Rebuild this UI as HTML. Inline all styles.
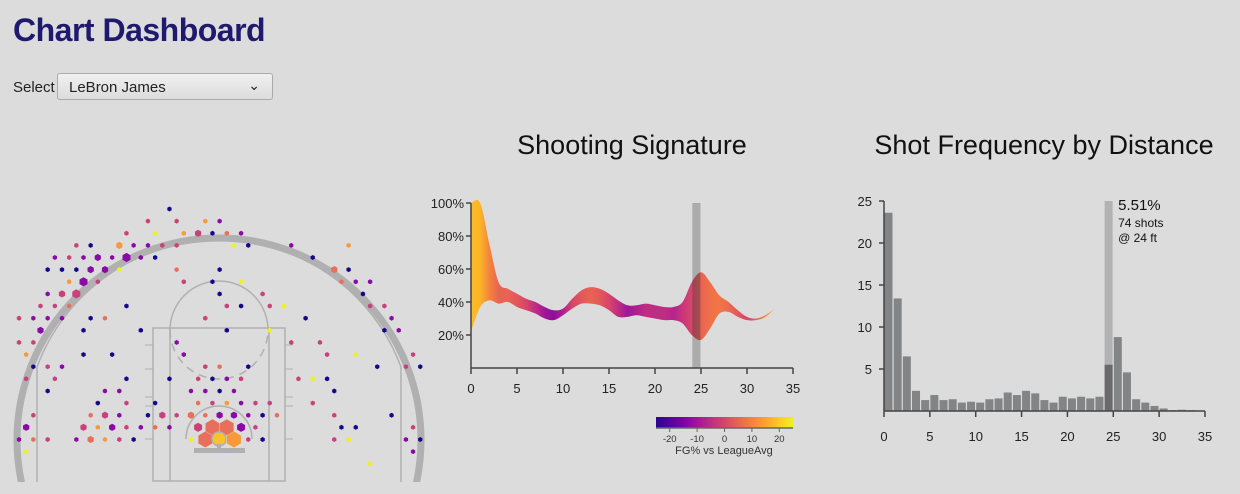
<!DOCTYPE html>
<html><head><meta charset="utf-8">
<style>
html,body{margin:0;width:1240px;height:494px;overflow:hidden}
body{background:#dcdcdc;font-family:"Liberation Sans",sans-serif;position:relative}
h1{position:absolute;left:13px;top:12px;margin:0;font-size:32px;font-weight:bold;color:#1f1a6e;letter-spacing:-0.5px}
#sel-label{position:absolute;left:13px;top:79px;font-size:15px;color:#222}
#sel{position:absolute;left:57px;top:73px;width:216px;height:27px;border:1px solid #aaa;border-radius:3px;background:linear-gradient(#f0f0f0,#dcdcdc);box-sizing:border-box;font-size:15px;color:#222;padding:5px 0 0 11px}
#sel span{position:absolute;right:12px;top:3px;font-size:14px}
svg{position:absolute;left:0;top:0;display:block}
</style></head><body>
<h1>Chart Dashboard</h1>
<div id="sel-label">Select</div>
<div id="sel">LeBron James<span>&#8964;</span></div>
<svg id="s" width="1240" height="494" xmlns="http://www.w3.org/2000/svg" font-family="Liberation Sans, sans-serif">
<defs>
<linearGradient id="ribbonGrad" gradientUnits="userSpaceOnUse" x1="471" x2="793" y1="0" y2="0"></linearGradient>
<linearGradient id="cbGrad" x1="0" x2="1" y1="0" y2="0"></linearGradient>
<clipPath id="courtClip"><rect x="0" y="150" width="440" height="332"/></clipPath>
<clipPath id="ribbonClip"><path id="ribbonClipPath" d=""/></clipPath>
</defs>
<g id="court"></g>
<g id="sig"></g>
<g id="freq"></g>
</svg>
<script>
// ---------- Court hexbin data: [row, col, colorKey, sizeKey] ----------
const hexRows = [
"10.5n1","9m1 11m1 13a1 14p1","7.5m1 9.5y1 11.5a1 12.5m2 13.5n1 14.5o1 15.5p1",
"4m1 5n1 7a2 8p1 9p1 10m1 11m1 15y1 16n1 19p1 23a1",
"2.5p1 3.5m1 4.5p1 5.5p2 6.5p1 7.5p3 8.5p1 9.5n1 20.5n1",
"2n1 3n1 4n1 5p2 6p2 7y1 11o1 14n1 22o2 23n1",
"3.5a1 4.5p3 5.5m1 11.5m1 13.5n1 15.5y1 22.5o1 23.5p1 24.5p1",
"2p1 3m2 4m3 14n1 17m1 24n1",
"1.5m1 2.5m1 3.5o1 7.5n1 14.5m1 15.5n1 17.5m1 18.5y1 24.5m1 25.5m1",
"0m1 1p1 2p1 3p1 5n1 6o1 13m1 20n1 26p1",
"1.5p2 4.5n1 8.5n1 14.5n1 17.5y1 25.5n1 26.5p1",
"0m1 1m1 11p1 19m1 21m1",
"0.5a1 4.5n1 6.5n1 11.5p1 21.5m1 23.5y1 27.5m1",
"1n1 2m1 3p1 13m1 14o1 16n1 25n1 27m1 28n1",
"0.5m1 2.5m1 7.5n1 10.5n1 12.5m1 13.5n1 14.5p1 15.5m1 19.5m1 20.5y1 21.5n1",
"2n1 6p1 7p1 12p1 13p1 14n1 15p1 22n1",
"5.5n1 7.5m1 9.5n1 12.5o1 13.5m1 14.5a1 15.5p1 16.5m1 17.5m1 20.5m1",
"1m1 5o1 6m2 7p1 9n1 10m2 11m1 12o2 13o1 14p2 15p2 16p1 17n1 18o1 22m1 26n1",
"0.5p2 4.5m2 5.5a1 6.5p2 7.5m1 8.5p1 9.5o1 10.5p1 12.5m3 13.5o4 14.5o4 15.5p3 16.5m1 22.5n1 23.5n1 27.5m1",
"0p1 1o1 2m1 4p1 5o2 6a1 7m1 8n1 12y1 13o4 14g4 15a4 16m1 17n1 22m1 23y1 27p1 28n1",
"0.5y1 13.5y1 14.5y1 27.5p1",
"24.5y1"
];
const colorMap = {n:"#14088a",p:"#8a0aa5",m:"#c8417c",o:"#e8705b",a:"#f99a3a",y:"#eef21f",g:"#fcc22a"};
const sizeMap = {1:2.5,2:3.6,3:4.6,4:8};

// ---------- Shooting signature data ----------
const sigDist  = [0,1,2,3,4,5,6,7,8,9,10,11,12,13,14,15,16,17,18,19,20,21,22,23,24,25,26,27,28,29,30,31,32,33];
const sigUpper = [100,100,75,52,48,45,42,40,37,35,36,42,47,49,48,45,41,38,38,39,38,37,37,40,52,58,52,44,40,35,31,30,32,36];
const sigLower = [22,37,41,39,40,37,35,33,30,29,32,36,39,39,38,35,31,31,32,31,30,29,29,27,20,17,24,33,34,31,29,29,31,36];
const sigDiff  = [18,17,10,5,5,3,0,-5,-10,-12,-8,0,3,5,3,0,-5,-10,-8,-5,-5,-5,-7,-3,0,5,7,8,6,3,0,5,10,15];
const sigYTicks = [20,40,60,80,100];
const xTicks = [0,5,10,15,20,25,30,35];
const cbTicks = [-20,-10,0,10,20];

// ---------- Frequency data ----------
const freqDist = [0,1,2,3,4,5,6,7,8,9,10,11,12,13,14,15,16,17,18,19,20,21,22,23,24,25,26,27,28,29,30,31,32,33,34];
const freqVals = [23.6,13.4,6.5,2.4,1.3,1.9,1.3,1.4,1.0,1.1,1.0,1.4,1.5,2.2,1.9,2.4,2.1,1.3,1.0,1.7,1.5,1.7,1.5,1.7,5.51,8.8,4.6,1.4,1.0,0.6,0.3,0.1,0.15,0.1,0.05];
const freqYTicks = [5,10,15,20,25];
const selectedDist = 24;
const selectedShots = 74;

const NS="http://www.w3.org/2000/svg";
function mk(parent,tag,attrs,text){const e=document.createElementNS(NS,tag);for(const k in attrs)e.setAttribute(k,attrs[k]);if(text!==undefined)e.textContent=text;parent.appendChild(e);return e;}

const plasmaStops=[[-25,"#2a0593"],[-15,"#7a02a8"],[-7,"#b5238d"],[0,"#d8456a"],[7,"#ef7049"],[14,"#fa9d2a"],[20,"#fccb25"],[25,"#eef21f"]];
function hex2rgb(h){return [1,3,5].map(i=>parseInt(h.substr(i,2),16));}
function plasma(v){v=Math.max(-25,Math.min(25,v));for(let i=0;i<plasmaStops.length-1;i++){const a=plasmaStops[i],b=plasmaStops[i+1];if(v<=b[0]){const t=(v-a[0])/(b[0]-a[0]);const ca=hex2rgb(a[1]),cb=hex2rgb(b[1]);return "rgb("+ca.map((c,j)=>Math.round(c+(cb[j]-c)*t)).join(",")+")";}}return plasmaStops[plasmaStops.length-1][1];}

// ================= COURT =================
const court=document.getElementById('court');
const cg=mk(court,'g',{'clip-path':'url(#courtClip)'});
const courtLines=mk(cg,'g',{fill:'none',stroke:'#b0b0b0'});


mk(courtLines,'circle',{cx:219,cy:440,r:202,'stroke-width':7});
mk(courtLines,'path',{d:'M37,482 L37,367 A194,194 0 0 1 401,367 L401,482','stroke-width':1.5});
mk(courtLines,'rect',{x:153,y:328,width:132,height:153,'stroke-width':1.5});
mk(courtLines,'line',{x1:170,y1:328,x2:170,y2:481,'stroke-width':1.5});
mk(courtLines,'line',{x1:269,y1:328,x2:269,y2:481,'stroke-width':1.5});
mk(courtLines,'path',{d:'M170,330 A49,49 0 0 1 268,330','stroke-width':1.5});
mk(courtLines,'path',{d:'M170,330 A49,49 0 0 0 268,330','stroke-width':1.5,'stroke-dasharray':'8,6'});
mk(courtLines,'path',{d:'M186,439 A33,33 0 0 1 252,439','stroke-width':1.5});
[345,369,397,406,439].forEach(y=>{mk(courtLines,'line',{x1:145,y1:y,x2:153,y2:y});mk(courtLines,'line',{x1:285,y1:y,x2:293,y2:y});});
const dots=mk(cg,'g',{});
hexRows.forEach((row,r)=>{row.split(' ').forEach(tok=>{
  const m=tok.match(/^([\d.]+)([a-z])(\d)$/);const col=parseFloat(m[1]);
  const x=19+col*14.33, y=209+r*12.13, rad=sizeMap[m[3]], fill=colorMap[m[2]];
  const pts=[];for(let k=0;k<6;k++){const a=Math.PI/3*k+Math.PI/6;pts.push((x+rad*Math.cos(a)).toFixed(1)+','+(y+rad*Math.sin(a)).toFixed(1));}
  const el=mk(dots,'polygon',{points:pts.join(' '),fill:fill});
  
  
});});
const hoop=mk(cg,'g',{});


mk(hoop,'rect',{x:194,y:448,width:51,height:5,fill:'#b0b0b0'});
mk(hoop,'rect',{x:217,y:444,width:4,height:5,fill:'#b0b0b0'});
mk(hoop,'circle',{cx:219,cy:439,r:7,fill:'none',stroke:'#b0b0b0','stroke-width':1.5});

// ================= SHOOTING SIGNATURE =================
const sig=document.getElementById('sig');
const sx=d=>471+d*(322/35), sy=p=>368-p*1.65;
const t1=mk(sig,'text',{x:632,y:154,'text-anchor':'middle','font-size':27,fill:'#111'},'Shooting Signature');


const bandX=sx(selectedDist)+0.5, bandW=sx(selectedDist+1)-sx(selectedDist)-1;
const band=mk(sig,'rect',{x:bandX,y:sy(100),width:bandW,height:sy(0)-sy(100),fill:'#ababab'});


const rg=document.getElementById('ribbonGrad');
sigDist.forEach((d,i)=>mk(rg,'stop',{offset:(d/35).toFixed(4),'stop-color':plasma(sigDiff[i])}));
function smooth(pts){let s='M'+pts[0][0]+','+pts[0][1];for(let i=0;i<pts.length-1;i++){const p0=pts[Math.max(0,i-1)],p1=pts[i],p2=pts[i+1],p3=pts[Math.min(pts.length-1,i+2)];
 const c1=[p1[0]+(p2[0]-p0[0])/6,p1[1]+(p2[1]-p0[1])/6],c2=[p2[0]-(p3[0]-p1[0])/6,p2[1]-(p3[1]-p1[1])/6];s+=' C'+c1.join(',')+' '+c2.join(',')+' '+p2.join(',');}return s;}
const up=sigDist.map((d,i)=>[sx(d),sy(sigUpper[i])]);
const lo=sigDist.map((d,i)=>[sx(d),sy(sigLower[i])]).reverse();
const loS=smooth(lo);
const pathD=smooth(up)+' L'+lo[0].join(',')+loS.slice(loS.indexOf(' '))+' Z';
document.getElementById('ribbonClipPath').setAttribute('d',pathD);
const rib=mk(sig,'path',{d:pathD,fill:'url(#ribbonGrad)'});


mk(sig,'rect',{x:bandX,y:sy(100),width:bandW,height:sy(0)-sy(100),fill:'#333','opacity':0.35,'clip-path':'url(#ribbonClip)'});
const sAx=mk(sig,'g',{stroke:'#444','stroke-width':1.5,fill:'none'});


mk(sAx,'line',{x1:471,y1:sy(100),x2:471,y2:368});
mk(sAx,'line',{x1:471,y1:368,x2:793,y2:368});
sigYTicks.forEach(v=>{mk(sAx,'line',{x1:466,y1:sy(v),x2:471,y2:sy(v)});
 const t=mk(sig,'text',{x:464,y:sy(v)+5,'text-anchor':'end','font-size':13,fill:'#222'},v+'%');
 
 });
xTicks.forEach(v=>{mk(sAx,'line',{x1:sx(v),y1:368,x2:sx(v),y2:374});
 const t=mk(sig,'text',{x:sx(v),y:393,'text-anchor':'middle','font-size':13,fill:'#222'},v);
 
 });
const cbg=document.getElementById('cbGrad');
for(let v=-25;v<=25;v+=5)mk(cbg,'stop',{offset:((v+25)/50).toFixed(3),'stop-color':plasma(v)});
const cbx=v=>656+(v+25)*(137/50);
const cb=mk(sig,'rect',{x:656,y:417,width:137,height:11,fill:'url(#cbGrad)'});


mk(sig,'line',{x1:656,y1:428,x2:793,y2:428,stroke:'#666','stroke-width':1.5});
cbTicks.forEach(v=>{mk(sig,'line',{x1:cbx(v),y1:428,x2:cbx(v),y2:432,stroke:'#666'});
 const t=mk(sig,'text',{x:cbx(v),y:442,'text-anchor':'middle','font-size':9.5,fill:'#333'},v);
 
 });
const cbt=mk(sig,'text',{x:724,y:454,'text-anchor':'middle','font-size':11,fill:'#333'},'FG% vs LeagueAvg');



// ================= FREQUENCY =================
const fr=document.getElementById('freq');
const fx=d=>884+d*(321/35), fy=v=>411-v*8.4;
const t2=mk(fr,'text',{x:1044,y:154,'text-anchor':'middle','font-size':27,fill:'#111'},'Shot Frequency by Distance');


freqDist.forEach((d,i)=>{
 if(d===selectedDist){const hb=mk(fr,'rect',{x:fx(d)+0.5,y:fy(25),width:8,height:fy(0)-fy(25),fill:'#b2b2b2'});
  
  }
 const b=mk(fr,'rect',{x:fx(d)+0.5,y:fy(freqVals[i]),width:8,height:fy(0)-fy(freqVals[i]),fill:d===selectedDist?'#6a6a6c':'#828486'});
 
 
});
const fAx=mk(fr,'g',{stroke:'#444','stroke-width':1.5,fill:'none'});


mk(fAx,'line',{x1:884,y1:fy(25),x2:884,y2:411});
mk(fAx,'line',{x1:884,y1:411,x2:1205,y2:411});
freqYTicks.forEach(v=>{mk(fAx,'line',{x1:879,y1:fy(v),x2:884,y2:fy(v)});
 const t=mk(fr,'text',{x:872,y:fy(v)+5,'text-anchor':'end','font-size':13,fill:'#222'},v);
 
 });
xTicks.forEach(v=>{mk(fAx,'line',{x1:fx(v),y1:411,x2:fx(v),y2:417});
 const t=mk(fr,'text',{x:fx(v),y:441,'text-anchor':'middle','font-size':13,fill:'#222'},v);
 
 });
const si=freqDist.indexOf(selectedDist);
const ann=mk(fr,'g',{fill:'#111'});


mk(ann,'text',{x:fx(selectedDist)+14,y:210,'font-size':15},freqVals[si].toFixed(2)+'%');
mk(ann,'text',{x:fx(selectedDist)+14,y:227,'font-size':12},selectedShots+' shots');
mk(ann,'text',{x:fx(selectedDist)+14,y:242,'font-size':12},'@ '+selectedDist+' ft');
</script>
</body></html>
